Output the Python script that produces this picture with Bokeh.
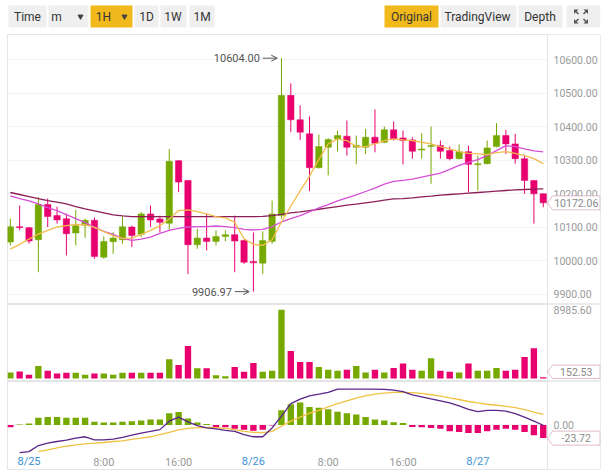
import numpy as np
from bokeh.plotting import figure
from bokeh.layouts import column
from bokeh.models import (Range1d, FixedTicker, NumeralTickFormatter, Label, Span,
                          PolyAnnotation, Arrow, OpenHead, ColumnDataSource)
from bokeh.core.properties import value
from bokeh.embed import file_html
from bokeh.resources import INLINE

# ---------------- data (hourly candles, index 0 = 8/24 22:00) ----------------
hours = list(range(58))
opens = [10055, 10101, 10098, 10062, 10167, 10134, 10125, 10082, 10105, 10120,
         10010, 10056, 10062, 10100, 10078, 10139, 10124, 10111, 10298, 10239,
         10047, 10067, 10057, 10072, 10077, 10060, 9997, 9992, 10057, 10134,
         10493, 10420, 10378, 10277, 10338, 10363, 10371, 10338, 10338, 10368,
         10353, 10390, 10366, 10360, 10330, 10340, 10343, 10328, 10304, 10325,
         10286, 10289, 10340, 10373, 10348, 10304, 10239, 10199]
highs = [10125, 10164, 10100, 10189, 10185, 10161, 10140, 10151, 10125, 10128,
         10072, 10085, 10131, 10104, 10145, 10164, 10134, 10333, 10300, 10240,
         10095, 10139, 10090, 10090, 10134, 10062, 10084, 10087, 10179, 10604.00,
         10529, 10463, 10430, 10376, 10365, 10388, 10418, 10373, 10393, 10451,
         10400, 10415, 10388, 10368, 10380, 10400, 10358, 10340, 10346, 10343,
         10313, 10358, 10410, 10390, 10378, 10316, 10240, 10200]
lows = [10045, 10090, 10050, 9965, 10100, 10110, 10015, 10045, 10068, 10005,
        10005, 10020, 10050, 10040, 10070, 10100, 10084, 10090, 10204, 9960,
        10035, 10030, 10045, 10057, 9965, 9990, 9906.97, 9960, 10050, 10125,
        10383, 10360, 10207, 10275, 10254, 10325, 10313, 10287, 10318, 10323,
        10350, 10358, 10287, 10304, 10304, 10229, 10304, 10299, 10302, 10204,
        10209, 10287, 10338, 10318, 10289, 10199, 10110, 10159]
closes = [10101, 10098, 10058, 10167, 10131, 10121, 10080, 10104, 10120, 10012,
          10057, 10067, 10101, 10075, 10139, 10121, 10114, 10296, 10234, 10047,
          10067, 10057, 10072, 10077, 10058, 9995, 9993, 10060, 10139, 10493,
          10420, 10383, 10277, 10340, 10361, 10373, 10338, 10343, 10368, 10350,
          10390, 10363, 10358, 10326, 10333, 10343, 10326, 10304, 10325, 10287,
          10289, 10336, 10373, 10348, 10304, 10239, 10199, 10172.06]
volumes = [781, 912, 478, 1650, 998, 651, 738, 738, 478, 651,
           651, 478, 738, 738, 738, 738, 738, 2518, 1780, 4254,
           1346, 1346, 434, 304, 1519, 868, 2040, 868, 998, 8985.60,
           3603, 2170, 2170, 1519, 1129, 998, 1129, 1650, 781, 1129,
           781, 1389, 1953, 1129, 998, 2648, 998, 868, 781, 1953,
           998, 998, 1389, 998, 1129, 2822, 3950, 152.53]
ma7 = [10034, 10048, 10064, 10079, 10090, 10100, 10104, 10108, 10107, 10099,
       10086, 10074, 10066, 10067, 10078, 10090, 10104, 10124, 10149, 10151,
       10146, 10139, 10131, 10127, 10114, 10065, 10048, 10045, 10062, 10115,
       10162, 10208, 10252, 10302, 10348, 10363, 10358, 10340, 10340, 10348,
       10358, 10363, 10360, 10358, 10353, 10348, 10340, 10333, 10325, 10320,
       10318, 10316, 10322, 10325, 10320, 10313, 10304, 10289]
ma25 = [10193, 10185, 10178, 10169, 10158, 10149, 10137, 10125, 10113, 10099,
        10087, 10078, 10066, 10060, 10064, 10070, 10081, 10090, 10096, 10100,
        10101, 10101, 10103, 10101, 10098, 10093, 10091, 10093, 10101, 10115,
        10125, 10134, 10145, 10157, 10167, 10178, 10187, 10196, 10206, 10216,
        10228, 10236, 10239, 10243, 10249, 10255, 10261, 10272, 10284, 10293,
        10301, 10313, 10328, 10343, 10340, 10333, 10327, 10324]
ma99 = [10203, 10197, 10191, 10185, 10179, 10174, 10169, 10161, 10154, 10148,
        10142, 10136, 10133, 10131, 10131, 10131, 10131, 10131, 10131, 10131,
        10131, 10131, 10131, 10131, 10131, 10131, 10131, 10132, 10134, 10138,
        10142, 10145, 10149, 10153, 10157, 10161, 10165, 10168, 10172, 10176,
        10180, 10184, 10185, 10187, 10190, 10192, 10195, 10197, 10199, 10201,
        10203, 10205, 10207, 10209, 10211, 10212, 10213, 10214]
macd_hist = [-4.3, 0.6, 2.4, 12.8, 14.0, 14.0, 12.8, 12.8, 12.8, 5.5,
             4.3, 4.3, 5.5, 6.7, 7.9, 9.7, 9.7, 20.7, 23.1, 11.6,
             4.3, 1.8, -4.3, -4.3, -6.7, -8.5, -10.3, -8.5, -1.2, 26.1,
             37.1, 40.1, 32.2, 31.0, 28.0, 23.7, 20.7, 18.8, 14.0, 9.7,
             7.9, 4.9, 3.6, -3.6, -4.3, -5.5, -6.7, -11.6, -12.8, -14.6,
             -14.6, -11.6, -8.5, -6.7, -8.5, -12.8, -18.8, -23.72]
NaN = float("nan")
dif = [NaN, -49.9, -48.0, -37.1, -32.8, -29.8, -27.4, -23.7, -21.3, -26.8,
       -26.8, -25.5, -22.5, -18.2, -14.6, -11.6, -8.5, 6.7, 14.0, 5.5,
       -1.2, -5.5, -7.3, -9.7, -11.6, -17.6, -21.3, -21.3, -5.5, 15.8,
       38.3, 46.2, 52.3, 55.3, 58.4, 64.4, 64.4, 64.4, 64.4, 64.4,
       63.8, 62.6, 59.6, 54.1, 50.5, 46.8, 43.2, 39.5, 34.0, 28.0,
       23.7, 26.1, 26.1, 24.9, 20.1, 14.0, 6.7, -0.6]
dea = [NaN, NaN, NaN, -48.0, -45.0, -41.3, -38.3, -35.9, -34.0, -32.8,
       -31.6, -29.8, -28.6, -26.1, -23.7, -21.3, -17.6, -13.4, -9.1, -6.1,
       -4.9, -4.3, -4.9, -6.1, -8.5, -11.6, -13.4, -14.0, -11.6, -2.4,
       6.7, 14.0, 21.3, 26.1, 32.2, 38.3, 43.2, 48.0, 52.3, 55.3,
       57.2, 58.4, 58.4, 57.8, 56.5, 54.1, 51.7, 48.6, 45.6, 42.0,
       39.5, 37.1, 35.3, 33.4, 31.0, 27.4, 23.1, 18.8]
price_ticks = [9900, 10000, 10100, 10200, 10300, 10400, 10500, 10600]
volume_ticks = [8985.60]
macd_ticks = [0.0]
time_tick_hours = [2, 10, 18, 26, 34, 42, 50]
time_tick_labels = ["8/25", "8:00", "16:00", "8/26", "8:00", "16:00", "8/27"]
toolbar_labels = ["Time", "m", "1H", "1D", "1W", "1M", "Original", "TradingView", "Depth"]

# ---------------- styles / layout ----------------
FONT = "Roboto"
GREEN = "#76a900"
PINK = "#e8006e"
MA7_C = "#f2bd4e"
MA25_C = "#d64fd6"
MA99_C = "#8c1d58"
DIF_C = "#5a2588"
DEA_C = "#f2c244"
BORDER = "#e4e4e4"
GRID = "#f3f3f3"
AXIS_TXT = "#9a9a9a"
BOX_C = "#9a2263"
YELLOW = "#f2b91c"
BTN = "#efefef"

W = 612
LEFT = 7
RIGHT = 12
FRAME_R = W - RIGHT          # 600: outer right border
SEP = 547                    # separator between plot and price scale
LAB_X = 553                  # left edge of scale labels
FRAME_W = FRAME_R - LEFT
PX = 9.35                    # px per hour
X0 = -0.3
XR = Range1d(X0, X0 + FRAME_W / PX)


def dx(px):
    return X0 + (px - LEFT) / PX


def make_panel(height, top_b, bottom_b, yr, xaxis=False):
    p = figure(width=W, height=height, x_range=XR, y_range=yr, title=None,
               output_backend="svg", toolbar_location=None,
               x_axis_location="below" if xaxis else None, y_axis_location="right",
               min_border_left=LEFT, min_border_right=RIGHT,
               min_border_top=top_b, min_border_bottom=bottom_b)
    p.outline_line_color = BORDER
    p.border_fill_color = "white"
    p.background_fill_color = "white"
    p.xgrid.visible = False
    ax = p.yaxis[0]
    ax.axis_line_color = None
    ax.major_tick_line_color = None
    ax.minor_tick_line_color = None
    ax.major_tick_out = 0
    ax.major_tick_in = 0
    ax.minor_tick_out = 0
    ax.minor_tick_in = 0
    ax.major_label_standoff = LAB_X - FRAME_R
    ax.major_label_text_color = AXIS_TXT
    ax.major_label_text_font = FONT
    ax.major_label_text_font_size = "10.5px"
    ax.formatter = NumeralTickFormatter(format="0.00")
    # price-scale column: white background and separator line
    p.quad(left=[dx(SEP)], right=[XR.end], bottom=[yr.start], top=[yr.end],
           fill_color="white", line_color=None)
    p.add_layout(Span(location=dx(SEP), dimension="height", line_color=BORDER, line_width=1))
    return p


def value_box(p, v, hh, text):
    xt = dx(SEP)
    xl = dx(LAB_X - 1)
    xr = dx(FRAME_R - 0.5)
    p.add_layout(PolyAnnotation(xs=[xt, xl, xr, xr, xl], ys=[v, v + hh, v + hh, v - hh, v - hh],
                                fill_color="white", fill_alpha=1, line_color=BOX_C, line_width=1))
    p.add_layout(Label(x=(xl + xr) / 2, y=v, text=text, text_align="center",
                       text_baseline="middle", text_font=FONT, text_font_size="10.5px",
                       text_color="#888888"))


colors = [GREEN if c >= o else PINK for o, c in zip(opens, closes)]

# ---------------- toolbar (data units = screen px) ----------------
tb = figure(width=W, height=33, x_range=Range1d(LEFT, FRAME_R), y_range=Range1d(33, 0), title=None,
            output_backend="svg", toolbar_location=None, x_axis_location=None,
            y_axis_location=None, min_border_left=LEFT, min_border_right=RIGHT,
            min_border_top=0, min_border_bottom=0)
tb.outline_line_color = None
tb.xgrid.visible = False
tb.ygrid.visible = False
btn_l = [8, 48, 90, 134, 160, 189, 384, 440, 518, 566]
btn_r = [46, 88, 132, 158, 186, 214, 438, 516, 562, 600]
btn_c = [BTN, BTN, YELLOW, BTN, BTN, BTN, YELLOW, BTN, BTN, BTN]
tb.quad(left=btn_l, right=btn_r, top=[5] * 10, bottom=[27] * 10, fill_color=btn_c, line_color=None)
txt_x = [27, 56, 103, 146, 172.5, 201.5, 411, 477, 539.5]
tb.text(x=txt_x, y=[16.5] * 9, text=toolbar_labels, text_align="center", text_baseline="middle",
        text_font=value(FONT), text_font_size="12px", text_color="#333333")
tb.scatter(x=[80, 124], y=[16, 16], marker="inverted_triangle", size=5, color="#444444")
cx, cy = 580.5, 16
tb.patches(xs=[[cx - 7, cx - 2.5, cx - 7], [cx + 7, cx + 2.5, cx + 7],
               [cx - 7, cx - 2.5, cx - 7], [cx + 7, cx + 2.5, cx + 7]],
           ys=[[cy - 7, cy - 7, cy - 2.5], [cy - 7, cy - 7, cy - 2.5],
               [cy + 7, cy + 7, cy + 2.5], [cy + 7, cy + 7, cy + 2.5]],
           fill_color="#555555", line_color=None)
tb.segment(x0=[cx - 6, cx + 6, cx - 6, cx + 6], y0=[cy - 6, cy - 6, cy + 6, cy + 6],
           x1=[cx - 2.5, cx + 2.5, cx - 2.5, cx + 2.5], y1=[cy - 2.5, cy - 2.5, cy + 2.5, cy + 2.5],
           line_color="#555555", line_width=1.5)

# ---------------- price panel ----------------
PY = 0.335  # px per price unit; 10600 sits at y=59
yr_p = Range1d(10600 - (303 - 59) / PY, 10600 + (59 - 34) / PY)
pp = make_panel(271, 1, 1, yr_p)
pp.yaxis.ticker = FixedTicker(ticks=price_ticks)
pp.ygrid.ticker = FixedTicker(ticks=price_ticks)
pp.ygrid.grid_line_color = GRID

min_h = 1.0 / PY
tops, bots = [], []
for o, c in zip(opens, closes):
    t, b = max(o, c), min(o, c)
    if t - b < min_h:
        m = (t + b) / 2
        t, b = m + min_h / 2, m - min_h / 2
    tops.append(t)
    bots.append(b)
src = ColumnDataSource(dict(x=hours, h=highs, l=lows, top=tops, bottom=bots, color=colors))
pp.segment(x0="x", y0="l", x1="x", y1="h", line_color="color", line_width=1, source=src)
pp.vbar(x="x", width=0.68, top="top", bottom="bottom", fill_color="color",
        line_color="color", line_width=0.5, source=src)
pp.line(hours, ma99, line_color=MA99_C, line_width=1.3)
pp.line(hours, ma25, line_color=MA25_C, line_width=1.3)
pp.line(hours, ma7, line_color=MA7_C, line_width=1.3)

imax = int(np.argmax(highs))
imin = int(np.argmin(lows))
for idx, val in [(imax, highs[imax]), (imin, lows[imin])]:
    pp.text(x=[idx - 2.3], y=[val], text=[f"{val:.2f}"], text_align="right", text_baseline="middle",
            text_font=value(FONT), text_font_size="11px", text_color="#555555")
    pp.add_layout(Arrow(end=OpenHead(size=6, line_color="#555555", line_width=1),
                        x_start=idx - 2.0, y_start=val, x_end=idx - 0.45, y_end=val,
                        line_color="#555555", line_width=1))
value_box(pp, closes[-1], 7 / PY, f"{closes[-1]:.2f}")

# ---------------- volume panel ----------------
PV = 68.7 / 8985.60
yr_v = Range1d(-(380 - 378) / PV, (378 - 304) / PV)
pv = make_panel(77, 0, 1, yr_v)
pv.yaxis.ticker = FixedTicker(ticks=volume_ticks)
pv.ygrid.visible = False
pv.vbar(x=hours, width=0.68, top=volumes, bottom=0, fill_color=colors, line_color=None)
hh_v = 6.7 / PV
value_box(pv, max(volumes[-1], hh_v), hh_v, f"{volumes[-1]:.2f}")

# ---------------- MACD panel (frame includes the time-label row) ----------------
PM = 0.557
ZERO_Y = 424.4
yr_m = Range1d(-(469 - ZERO_Y) / PM, (ZERO_Y - 381) / PM)
pm = make_panel(93, 0, 5, yr_m, xaxis=True)
pm.yaxis.ticker = FixedTicker(ticks=macd_ticks)
pm.ygrid.ticker = FixedTicker(ticks=macd_ticks)
pm.ygrid.grid_line_color = GRID
hist_colors = [GREEN if v >= 0 else PINK for v in macd_hist]
pm.vbar(x=hours, width=0.68, top=macd_hist, bottom=0, fill_color=hist_colors, line_color=None)
pm.line(hours, np.array(dea, dtype=float), line_color=DEA_C, line_width=1.3)
pm.line(hours, np.array(dif, dtype=float), line_color=DIF_C, line_width=1.3)
value_box(pm, macd_hist[-1], 7 / PM, f"{macd_hist[-1]:.2f}")

hour_ticks = [h for h, t in zip(time_tick_hours, time_tick_labels) if ":" in t]
xa = pm.xaxis[0]
xa.ticker = FixedTicker(ticks=hour_ticks)
xa.major_label_overrides = {h: t for h, t in zip(time_tick_hours, time_tick_labels) if ":" in t}
xa.axis_line_color = None
xa.major_tick_line_color = None
xa.minor_tick_line_color = None
xa.major_tick_out = 0
xa.major_tick_in = 0
xa.minor_tick_out = 0
xa.major_label_standoff = -14
xa.major_label_text_color = AXIS_TXT
xa.major_label_text_font = FONT
xa.major_label_text_font_size = "11px"
y_lab = (ZERO_Y - 461) / PM
for h, t in zip(time_tick_hours, time_tick_labels):
    if ":" not in t:
        pm.add_layout(Label(x=h, y=y_lab, text=t, text_align="center", text_baseline="middle",
                            text_font=FONT, text_font_size="11px", text_color="#3d93d1"))

layout = column(tb, pp, pv, pm, spacing=0)
open("out.html", "w").write(file_html(layout, INLINE, title="chart"))
